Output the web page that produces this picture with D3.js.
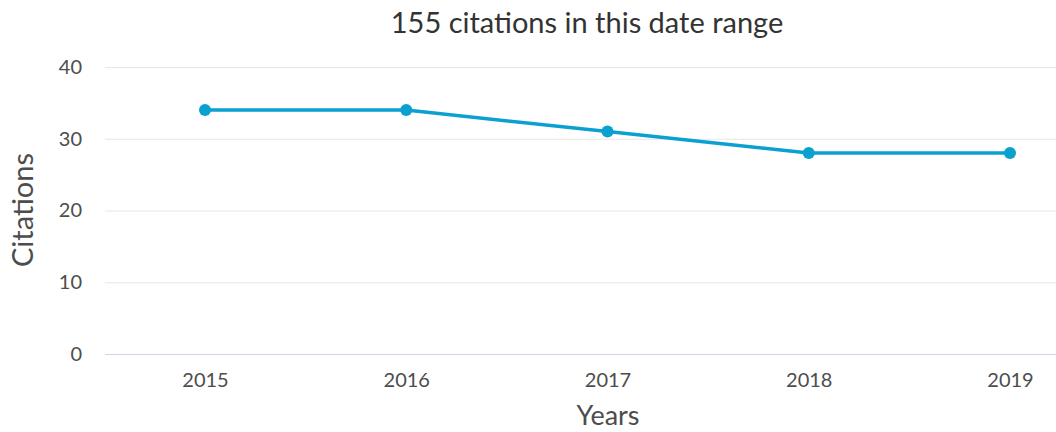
<!DOCTYPE html>
<html><head><meta charset="utf-8">
<script src="https://cdn.jsdelivr.net/npm/d3@7"></script>
<style>body{margin:0;background:#fff}svg{display:block}text{font-family:"Lato","Open Sans",sans-serif}</style>
</head><body>
<svg id="c" width="1056" height="432"></svg>
<script>
const years = ["2015","2016","2017","2018","2019"];
const citations = [34, 34, 31, 28, 28];
const yTicks = [0, 10, 20, 30, 40];
const titleText = "155 citations in this date range";

const svg = d3.select("#c");
const x = d3.scalePoint().domain(years).range([205, 1010]);
const y = d3.scaleLinear().domain([0, 40]).range([354, 67]);
const gridLeft = 105, gridRight = 1056;

svg.append("g").selectAll("line").data(yTicks).join("line")
  .attr("x1", gridLeft).attr("x2", gridRight)
  .attr("y1", d => y(d) + 0.5).attr("y2", d => y(d) + 0.5)
  .attr("stroke", d => d === 0 ? "#ccd6eb" : "#e6e6e6").attr("stroke-width", 1);

const yAxis = svg.append("g").attr("transform", "translate(82,0)")
  .call(d3.axisLeft(y).tickValues(yTicks).tickSize(0).tickPadding(0));
yAxis.select(".domain").remove();
yAxis.selectAll("text").attr("font-size", 20).attr("fill", "#4d4d4d").attr("font-family", "Lato, 'Open Sans', sans-serif");

const xAxis = svg.append("g").attr("transform", "translate(0,369)")
  .call(d3.axisBottom(x).tickSize(0).tickPadding(0));
xAxis.select(".domain").remove();
xAxis.selectAll("text").attr("font-size", 20).attr("fill", "#4d4d4d").attr("dy", "0.9em").attr("font-family", "Lato, 'Open Sans', sans-serif");

const line = d3.line().x((d, i) => x(years[i])).y(d => y(d));
svg.append("path").datum(citations).attr("d", line)
  .attr("fill", "none").attr("stroke", "#0aa1d0").attr("stroke-width", 3.5)
  .attr("stroke-linejoin", "round").attr("stroke-linecap", "round");
svg.append("g").selectAll("circle").data(citations).join("circle")
  .attr("cx", (d, i) => x(years[i])).attr("cy", d => y(d)).attr("r", 6)
  .attr("fill", "#0aa1d0");

svg.append("text").attr("x", 587).attr("y", 33).attr("text-anchor", "middle")
  .attr("font-size", 29).attr("fill", "#333").text(titleText);
svg.append("text").attr("transform", "translate(33,210) rotate(-90)").attr("text-anchor", "middle")
  .attr("font-size", 29).attr("fill", "#4d4d4d").text("Citations");
svg.append("text").attr("x", 608).attr("y", 425).attr("text-anchor", "middle")
  .attr("font-size", 27).attr("fill", "#4d4d4d").text("Years");
</script>
</body></html>
